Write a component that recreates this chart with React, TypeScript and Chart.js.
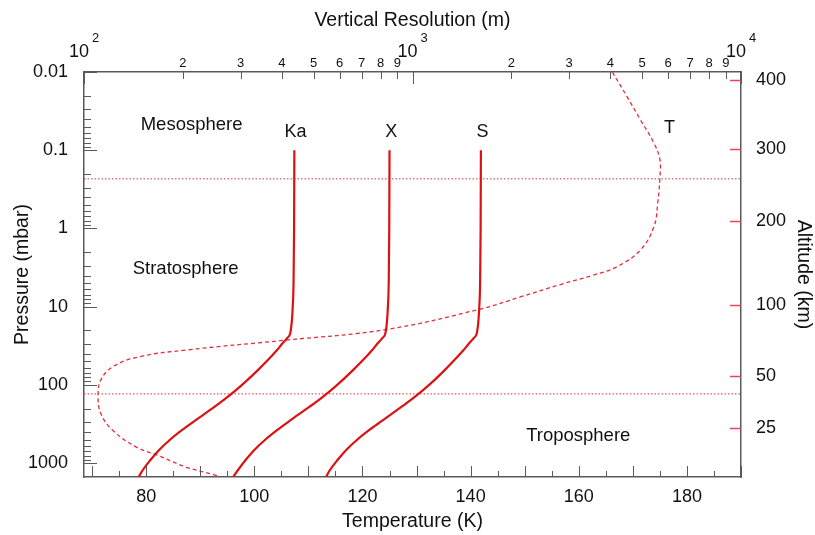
import React, { useEffect, useRef } from 'react';
import { Chart, registerables } from 'chart.js';

Chart.register(...registerables);

const FONT = '"Liberation Sans", Arial, Helvetica, sans-serif';
const AXIS_COLOR = '#5a5a5a';
const TEXT_COLOR = '#111111';
const LINE_RED = '#dd1111';
const DASH_RED = '#e0303c';

// Pressure levels (mbar) shared by the three band curves
const levelsMbar = [0.1, 1, 5, 10, 14.8, 21.6, 25, 30, 35.8, 48.1, 64.6, 86.7, 116.4, 156, 210, 282, 378, 508, 682, 916, 1230, 1500];
const kaTemp = [107.4, 107.35, 107.25, 107.1, 106.95, 106.65, 106.1, 105.1, 104.2, 102.5, 100.65, 98.7, 96.6, 94.3, 91.75, 89.15, 86.6, 84.3, 82.35, 80.75, 79.35, 78.6];
const xTemp = [125.0, 124.95, 124.85, 124.7, 124.55, 124.25, 123.7, 122.7, 121.8, 120.1, 118.25, 116.3, 114.2, 111.9, 109.3, 106.7, 104.2, 101.9, 99.95, 98.35, 96.95, 96.1];
const sTemp = [141.9, 141.85, 141.75, 141.6, 141.45, 141.15, 140.6, 139.6, 138.7, 137.0, 135.2, 133.3, 131.2, 128.9, 126.35, 123.8, 121.2, 118.9, 116.95, 115.35, 113.95, 113.25];

// Temperature profile (dashed)
const profileTemp = [166.2, 168.9, 171.4, 173.9, 175.0, 175.0, 174.6, 173.9, 171.4, 167.1, 162.8, 156.6, 149.2, 141.8, 124.5, 105.9, 87.3, 78.7, 73.8, 71.6, 71.1, 71.6, 73.8, 78.1, 82.1, 87.3, 92.9, 93.6];
const profilePressure = [0.01, 0.0205, 0.0408, 0.081, 0.132, 0.227, 0.475, 0.946, 1.88, 3.07, 3.93, 5.2, 7.5, 10.7, 19.5, 26.7, 35.8, 43.6, 58.6, 86.7, 135, 231, 378, 618, 790, 1115, 1425, 1500];

// Layer boundaries (mbar): stratopause, tropopause
const boundaryPressures = [0.232, 130];

// Axes
const tempRange = [68.5, 190];
const tempTicks = [70, 75, 80, 85, 90, 95, 100, 105, 110, 115, 120, 125, 130, 135, 140, 145, 150, 155, 160, 165, 170, 175, 180, 185, 190];
const pressureRange = [0.01, 1500];
const pressureDecades = [0.01, 0.1, 1, 10, 100, 1000];
const pressureDecadeLabels = ['0.01', '0.1', '1', '10', '100', '1000'];
const minorMultipliers = [2, 3, 4, 5, 6, 7, 8, 9];
const resolutionRange = [100, 10000];
const resolutionDecades = [100, 1000, 10000];
const resolutionExponents = ['2', '3', '4'];
const altitudeKm = ['400', '300', '200', '100', '50', '25'];
const altitudePressure = [0.01255, 0.0959, 0.8, 9.5, 77, 357];

// Annotations [text, temperature, pressure, font size]
const annotationText = ['Mesosphere', 'Stratosphere', 'Troposphere', 'Ka', 'X', 'S', 'T'];
const annotationTemp = [88.4, 87.3, 159.9, 107.6, 125.3, 142.2, 176.8];
const annotationPressure = [0.047, 3.29, 451, 0.058, 0.058, 0.058, 0.052];
const annotationSize = [18.5, 18.5, 18.5, 18, 18, 18, 18];

function logTicks(decades: number[], max: number) {
  const out: { value: number; major: boolean }[] = [];
  decades.forEach((d) => {
    if (d <= max) out.push({ value: d, major: true });
    minorMultipliers.forEach((m) => {
      const v = d * m;
      if (v <= max) out.push({ value: v, major: false });
    });
  });
  return out;
}

function isDecade(v: number) {
  const l = Math.log10(v);
  return Math.abs(l - Math.round(l)) < 1e-9;
}

const customPlugin = {
  id: 'customDraw',
  afterDraw(chart: any) {
    const ctx = chart.ctx as CanvasRenderingContext2D;
    const { left, right, top, bottom } = chart.chartArea;
    const sx = chart.scales.x;
    const sy = chart.scales.y;
    const sx2 = chart.scales.x2;
    const syR = chart.scales.yR;
    const line = (x1: number, y1: number, x2: number, y2: number) => {
      ctx.beginPath();
      ctx.moveTo(x1, y1);
      ctx.lineTo(x2, y2);
      ctx.stroke();
    };
    const r = (v: number) => Math.round(v) + 0.5;
    ctx.save();
    ctx.strokeStyle = AXIS_COLOR;
    ctx.lineWidth = 1;
    // bottom ticks (inward)
    sx.ticks.forEach((t: any) => {
      const px = r(sx.getPixelForValue(t.value));
      const len = t.value % 10 === 0 ? 11 : 6;
      line(px, bottom, px, bottom - len);
    });
    // left ticks
    sy.ticks.forEach((t: any) => {
      const py = r(sy.getPixelForValue(t.value));
      const len = isDecade(t.value) ? 13 : 7;
      line(left, py, left + len, py);
    });
    // top ticks
    sx2.ticks.forEach((t: any) => {
      const px = r(sx2.getPixelForValue(t.value));
      const len = isDecade(t.value) ? 12 : 7;
      line(px, top, px, top + len);
    });
    // right altitude ticks (red)
    ctx.strokeStyle = '#e04858';
    ctx.lineWidth = 1.5;
    syR.ticks.forEach((t: any) => {
      const py = r(syR.getPixelForValue(t.value));
      line(right, py, right - 11, py);
    });
    // 10^n labels on the top axis
    ctx.fillStyle = TEXT_COLOR;
    ctx.textBaseline = 'middle';
    resolutionDecades.forEach((d, i) => {
      const px = sx2.getPixelForValue(d);
      ctx.font = `18px ${FONT}`;
      ctx.textAlign = 'right';
      ctx.fillText('10', px + 5, 52);
      ctx.font = `13px ${FONT}`;
      ctx.textAlign = 'left';
      ctx.fillText(resolutionExponents[i], px + 8, 38);
    });
    // annotations
    ctx.textAlign = 'center';
    annotationText.forEach((txt, i) => {
      const px = sx.getPixelForValue(annotationTemp[i]);
      const py = sy.getPixelForValue(annotationPressure[i]);
      ctx.font = `${annotationSize[i]}px ${FONT}`;
      ctx.fillText(txt, px, py);
    });
    ctx.restore();
  },
};

const toPoints = (ts: number[], ps: number[]) => ts.map((t, i) => ({ x: t, y: ps[i] }));

export default function App() {
  const canvasRef = useRef<HTMLCanvasElement | null>(null);

  useEffect(() => {
    if (!canvasRef.current) return;
    Chart.defaults.font.family = FONT;
    const solid = {
      showLine: true,
      borderColor: LINE_RED,
      borderWidth: 2.2,
      pointRadius: 0,
      cubicInterpolationMode: 'monotone',
      fill: false,
    };
    const chart = new Chart(canvasRef.current, {
      type: 'scatter',
      data: {
        datasets: [
          { label: 'Ka', data: toPoints(kaTemp, levelsMbar), ...solid },
          { label: 'X', data: toPoints(xTemp, levelsMbar), ...solid },
          { label: 'S', data: toPoints(sTemp, levelsMbar), ...solid },
          {
            label: 'T',
            data: toPoints(profileTemp, profilePressure),
            showLine: true,
            borderColor: DASH_RED,
            borderWidth: 1.3,
            borderDash: [4, 3],
            pointRadius: 0,
            tension: 0.4,
            fill: false,
          },
          ...boundaryPressures.map((p) => ({
            label: 'boundary',
            data: [
              { x: tempRange[0], y: p },
              { x: tempRange[1], y: p },
            ],
            showLine: true,
            borderColor: DASH_RED,
            borderWidth: 1,
            borderDash: [1.5, 2],
            pointRadius: 0,
            fill: false,
          })),
        ],
      },
      options: {
        animation: false,
        responsive: false,
        layout: { padding: 0 },
        plugins: { legend: { display: false }, tooltip: { enabled: false } },
        scales: {
          x: {
            type: 'linear',
            position: 'bottom',
            min: tempRange[0],
            max: tempRange[1],
            afterBuildTicks: (s: any) => {
              s.ticks = tempTicks.map((v) => ({ value: v }));
            },
            afterFit: (s: any) => {
              s.height = 58;
            },
            grid: { display: false, drawTicks: false },
            border: { display: true, color: AXIS_COLOR, width: 1.5 },
            ticks: {
              autoSkip: false,
              maxRotation: 0,
              padding: 9,
              color: TEXT_COLOR,
              font: { size: 18 },
              callback: (v: any) => (Number(v) % 20 === 0 ? String(v) : ''),
            },
            title: { display: true, text: 'Temperature (K)', color: TEXT_COLOR, font: { size: 19.5 }, padding: { top: 0, bottom: 2 } },
          },
          x2: {
            type: 'logarithmic',
            position: 'top',
            min: resolutionRange[0],
            max: resolutionRange[1],
            afterBuildTicks: (s: any) => {
              s.ticks = logTicks(resolutionDecades, resolutionRange[1]);
            },
            afterFit: (s: any) => {
              s.height = 72;
            },
            grid: { display: false, drawTicks: false },
            border: { display: true, color: AXIS_COLOR, width: 1.5 },
            ticks: {
              autoSkip: false,
              maxRotation: 0,
              padding: 1,
              color: TEXT_COLOR,
              font: { size: 13 },
              callback: (v: any) => (isDecade(Number(v)) ? '' : String(Math.round(Number(v) / Math.pow(10, Math.floor(Math.log10(Number(v)) + 1e-9))))),
            },
            title: { display: true, text: 'Vertical Resolution (m)', color: TEXT_COLOR, font: { size: 19.5 }, padding: { top: 9, bottom: 0 } },
          },
          y: {
            type: 'logarithmic',
            position: 'left',
            reverse: true,
            min: pressureRange[0],
            max: pressureRange[1],
            afterBuildTicks: (s: any) => {
              s.ticks = logTicks(pressureDecades, pressureRange[1]);
            },
            afterFit: (s: any) => {
              s.width = 84;
            },
            grid: { display: false, drawTicks: false },
            border: { display: true, color: AXIS_COLOR, width: 1.5 },
            ticks: {
              autoSkip: false,
              padding: 16,
              color: TEXT_COLOR,
              font: { size: 18 },
              callback: (v: any) => {
                const n = Number(v);
                if (!isDecade(n)) return '';
                const idx = pressureDecades.findIndex((d) => Math.abs(Math.log10(d) - Math.log10(n)) < 1e-9);
                return idx >= 0 ? pressureDecadeLabels[idx] : '';
              },
            },
            title: { display: true, text: 'Pressure (mbar)', color: TEXT_COLOR, font: { size: 19.5 }, padding: { top: 11, bottom: 0 } },
          },
          yR: {
            type: 'logarithmic',
            position: 'right',
            reverse: true,
            min: pressureRange[0],
            max: pressureRange[1],
            afterBuildTicks: (s: any) => {
              s.ticks = altitudePressure.map((p) => ({ value: p }));
            },
            afterFit: (s: any) => {
              s.width = 74;
            },
            grid: { display: false, drawTicks: false },
            border: { display: true, color: AXIS_COLOR, width: 1.5 },
            ticks: {
              autoSkip: false,
              padding: 15,
              color: TEXT_COLOR,
              font: { size: 18 },
              callback: (_v: any, i: number) => altitudeKm[i],
            },
            title: { display: true, text: 'Altitude (km)', color: TEXT_COLOR, font: { size: 19.5 }, padding: { top: 0, bottom: 0 } },
          },
        },
      } as any,
      plugins: [customPlugin],
    });
    return () => chart.destroy();
  }, []);

  return (
    <div style={{ position: 'absolute', left: 0, top: 0, width: 815, height: 535, background: '#fff' }}>
      <canvas ref={canvasRef} width={815} height={535} style={{ display: 'block' }} />
    </div>
  );
}
